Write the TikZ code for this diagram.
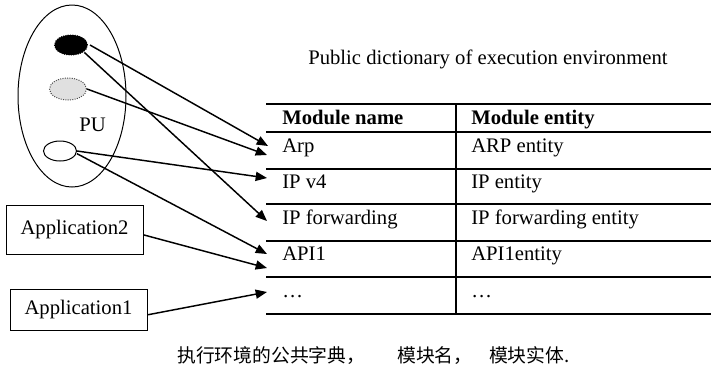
\documentclass[tikz,border=0pt]{standalone}
\usepackage{fontspec}
\setmainfont{Liberation Serif}
\newfontfamily\cjk{Noto Sans CJK SC}
\usetikzlibrary{shapes.geometric,arrows.meta}
\begin{document}
\begin{tikzpicture}[x=0.75pt,y=-0.75pt,
  font=\fontsize{15.5pt}{18pt}\selectfont,
  conn/.style={line width=1.1pt,-{Triangle[length=8.5pt,width=6.8pt]}},
  rule/.style={line width=1.5pt},
  txt/.style={anchor=base west,inner sep=0pt},
  appbox/.style={draw,line width=0.75pt,minimum width=102.75pt,inner sep=0pt},
  dot/.style={ellipse,inner sep=0pt,line width=0.75pt}]
\fill[white,use as bounding box] (0,0) rectangle (712,369);

% PU ellipse and its three entities
\node[dot,draw,minimum width=81pt,minimum height=136.5pt] (pu) at (72,96) {};
\node[txt] (pulabel) at (79,131) {PU};
\node[dot,draw=black,densely dotted,fill=black,minimum width=24.75pt,minimum height=15pt] (blk) at (71,45) {};
\node[dot,draw=black!70,densely dotted,fill=black!12,minimum width=27.75pt,minimum height=16.5pt] (gry) at (68,89) {};
\node[dot,draw,fill=white,minimum width=24.75pt,minimum height=15pt] (wht) at (60,151) {};

% applications
\node[appbox,minimum height=36.75pt] (app2) at (74.5,229.5) {Application2};
\node[appbox,minimum height=30.75pt] (app1) at (78.5,309.5) {Application1};

% title
\node[txt] (title) at (308,64) {Public dictionary of execution environment};

% table
\foreach \y in {104,132,169,204,241,277,314} \draw[rule] (266,\y) -- (711,\y);
\draw[line width=1.3pt] (456,104) -- (456,314);
\node[txt] (h1) at (282,124) {\textbf{Module name}};
\node[txt] (h2) at (471,124) {\textbf{Module entity}};
\node[txt] (r1a) at (282,152) {Arp};
\node[txt] (r1b) at (471,152) {ARP entity};
\node[txt] (r2a) at (282,188) {IP v4};
\node[txt] (r2b) at (471,188) {IP entity};
\node[txt] (r3a) at (282,224) {IP forwarding};
\node[txt] (r3b) at (471,224) {IP forwarding entity};
\node[txt] (r4a) at (282,260) {API1};
\node[txt] (r4b) at (471,260) {API1entity};
\node[txt] (r5a) at (282,297) {\ldots};
\node[txt] (r5b) at (471,297) {\ldots};

% arrow targets
\coordinate (tArp1) at (268,146);
\coordinate (tArp2) at (267,155);
\coordinate (tIPv4) at (267,178);
\coordinate (tFwd) at (267,221);
\coordinate (tApi1) at (267,254);
\coordinate (tApi2) at (267,268);
\coordinate (tDots) at (267,292);

% connectors
\draw[conn] ([xshift=1.5pt]blk.east) -- (tArp1);
\draw[conn] (gry.east) -- (tArp2);
\draw[conn] (wht.east) -- (tIPv4);
\draw[conn] ([xshift=1pt]blk.south east) -- (tFwd);
\draw[conn] ([yshift=-2pt]wht.east) -- (tApi1);
\draw[conn] ([yshift=-4pt]app2.east) -- (tApi2);
\draw[conn] ([yshift=-4pt]app1.east) -- (tDots);

% caption
\node[txt,font=\cjk\fontsize{14.1pt}{16pt}\selectfont] (cap) at (177,362)
  {执行环境的公共字典，\hspace{24pt}模块名，\hspace{12.5pt}模块实体.};
\end{tikzpicture}
\end{document}
